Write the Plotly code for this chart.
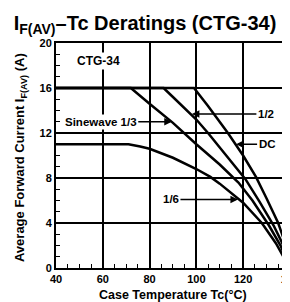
import plotly.graph_objects as go

# Case temperature (°C) and average forward current (A) for each conduction angle
x_dc = [40, 99, 105, 110, 113.5, 120, 125.5, 130, 135, 138, 140]
y_dc = [16, 16, 14.4, 13.0, 12.0, 10.0, 8.1, 6.2, 4.0, 2.2, 0]

x_half = [40, 86, 90, 97.3, 100, 105, 110, 115, 121, 127, 133, 137, 140]
y_half = [16, 16, 15.2, 13.8, 13.2, 12.0, 10.7, 9.4, 7.9, 5.9, 3.8, 2.1, 0]

x_third = [40, 72, 80, 90, 100, 110, 118, 124, 131, 136, 140]
y_third = [16, 16, 14.6, 12.9, 11.0, 9.2, 7.6, 6.0, 3.8, 2.0, 0]

x_sixth = [40, 71, 76, 80, 90, 100, 106, 110, 120, 128, 134, 140]
y_sixth = [11, 11, 10.8, 10.6, 9.8, 8.8, 8.1, 7.5, 5.8, 4.0, 2.2, 0]

x_ticks = [40, 60, 80, 100, 120, 140]
y_ticks = [0, 4, 8, 12, 16, 20]

FONT = "Liberation Sans, Arial, Helvetica, sans-serif"

fig = go.Figure()
for xs, ys in [(x_dc, y_dc), (x_half, y_half), (x_third, y_third), (x_sixth, y_sixth)]:
    fig.add_trace(go.Scatter(x=xs, y=ys, mode="lines",
                             line=dict(color="black", width=2.5),
                             showlegend=False, hoverinfo="skip"))

axis_common = dict(
    showgrid=True, gridcolor="black", gridwidth=1.5,
    showline=True, linecolor="black", linewidth=2, mirror=True,
    ticks="inside", ticklen=4, tickcolor="black",
    zeroline=False, automargin=False, ticklabeloverflow="allow",
    tickfont=dict(family=FONT, size=11, color="black", weight="bold"),
    minor=dict(ticks="inside", ticklen=4, tickcolor="black", showgrid=False),
)

fig.update_xaxes(range=[40, 140.05], tickvals=x_ticks, **axis_common)
fig.update_yaxes(range=[0, 20], tickvals=y_ticks, **axis_common)

ann_font = dict(family=FONT, size=11.5, color="black", weight="bold")

annotations = [
    dict(x=58, y=18.4, xref="x", yref="y", text="CTG-34", showarrow=False,
         font=dict(family=FONT, size=12, color="black", weight="bold"), bgcolor="white"),
    dict(x=89.5, y=13.0, xref="x", yref="y", text="Sinewave 1/3", showarrow=True,
         ax=-71, ay=0, arrowhead=2, arrowsize=1, arrowwidth=1.5, arrowcolor="black",
         font=ann_font, bgcolor="white"),
    dict(x=98.1, y=13.7, xref="x", yref="y", text="1/2", showarrow=True,
         ax=74, ay=0, arrowhead=2, arrowsize=1, arrowwidth=1.5, arrowcolor="black",
         font=ann_font, bgcolor="white"),
    dict(x=117, y=11.0, xref="x", yref="y", text="DC", showarrow=True,
         ax=31, ay=0, arrowhead=2, arrowsize=1, arrowwidth=1.5, arrowcolor="black",
         font=ann_font, bgcolor="white"),
    dict(x=117.8, y=6.1, xref="x", yref="y", text="1/6", showarrow=True,
         ax=-67, ay=0, arrowhead=2, arrowsize=1, arrowwidth=1.5, arrowcolor="black",
         font=ann_font, bgcolor="white"),
    dict(x=-0.154, y=0.493, xref="paper", yref="paper", textangle=-90,
         xanchor="center", yanchor="middle",
         text="Average Forward Current I<sub>F(AV)</sub> (A)", showarrow=False,
         font=dict(family=FONT, size=13, color="black", weight="bold")),
    dict(x=0.5, y=-0.118, xref="paper", yref="paper",
         xanchor="center", yanchor="middle",
         text="Case Temperature Tc(°C)", showarrow=False,
         font=dict(family=FONT, size=12.5, color="black", weight="bold")),
]

fig.update_layout(
    width=282, height=294,
    margin=dict(l=48, r=0, t=35, b=34),
    paper_bgcolor="white", plot_bgcolor="white",
    title=dict(text="<b>I<sub>F(AV)</sub>–Tc Deratings (CTG-34)</b>",
               x=137 / 282, xref="container", xanchor="center",
               y=1 - 15 / 294, yref="container", yanchor="middle",
               font=dict(family=FONT, size=20, color="black")),
    annotations=annotations,
)

fig.write_html("out.html")
